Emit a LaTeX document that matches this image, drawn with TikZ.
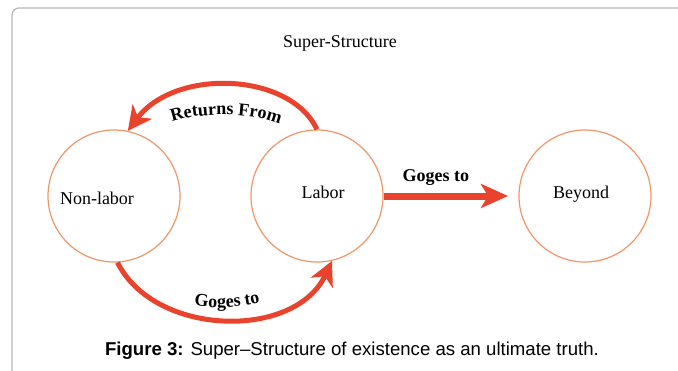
\documentclass[tikz,border=0pt]{standalone}
\usepackage{fontspec}
\setmainfont{Liberation Serif}
\newfontfamily\capfont{Liberation Sans}
\usetikzlibrary{arrows.meta,decorations.text}
\definecolor{ringorange}{RGB}{240,150,105}
\definecolor{arrowred}{RGB}{234,67,45}
\definecolor{framegray}{RGB}{185,185,185}
\newcommand{\lblfont}{\fontsize{18pt}{20pt}\selectfont\bfseries}
\tikzset{%
    ring/.style={
      circle,
      draw=ringorange,
      line width=1.2pt,
      minimum size=132pt,
      inner sep=0pt
    },
    ringtext/.style={
      font=\fontsize{18pt}{20pt}\selectfont
    },
    flow/.style={
      draw=arrowred,
      line width=5pt,
      -{Stealth[length=24pt,width=24pt,inset=7pt]}
    },
    flowlabel/.style={
      font=\lblfont,
      inner sep=0pt
    },
    arclabel/.style={
      decorate,
      decoration={text along path, text={|\lblfont|#1}, text align=center}
    },
    captext/.style={
      font=\capfont\fontsize{18.6pt}{21pt}\selectfont
    }
  }
\begin{document}
\begin{tikzpicture}[x=1pt, y=-1pt]
      \useasboundingbox (0,0) rectangle (678,370);

      % frame
      \draw[framegray, line width=1.3pt, rounded corners=7pt] (12,372) -- (12,8) -- (680,8);

      \node [ringtext] (title) at (340,43) {Super-Structure};

      \node [ring, label={[ringtext, xshift=-17pt, yshift=-2pt]center:Non-labor}] (nonlabor) at (114,196) {};
      \node [ring, label={[ringtext, xshift=6pt, yshift=4pt]center:Labor}] (labor) at (317,196) {};
      \node [ring, label={[ringtext, xshift=-4pt, yshift=2pt]center:Beyond}] (beyond) at (585,196) {};

      \coordinate (beyondin) at (508,196);

      \draw [flow] (labor.north) .. controls (290,72) and (175,68) .. (nonlabor.78);
      \draw [flow] (nonlabor.-87) .. controls (155,337) and (295,340) .. (labor.-77);
      \draw [flow, line width=7pt, -{Stealth[length=27pt,width=24pt,inset=7pt]}] (labor.east) -- (beyondin)
        node [flowlabel, pos=0.42, above=7pt] (golabel) {Goges to};

      % curved labels
      \path [arclabel={Returns From}] (165,125) .. controls (192,111) and (258,111) .. (287,127);
      \path [arclabel={Goges to}] (186,304) .. controls (205,309) and (245,309) .. (268,300);

      \node [captext] (caption) at (352,351) {\textbf{Figure 3:} Super–Structure of existence as an ultimate truth.};
\end{tikzpicture}
\end{document}
